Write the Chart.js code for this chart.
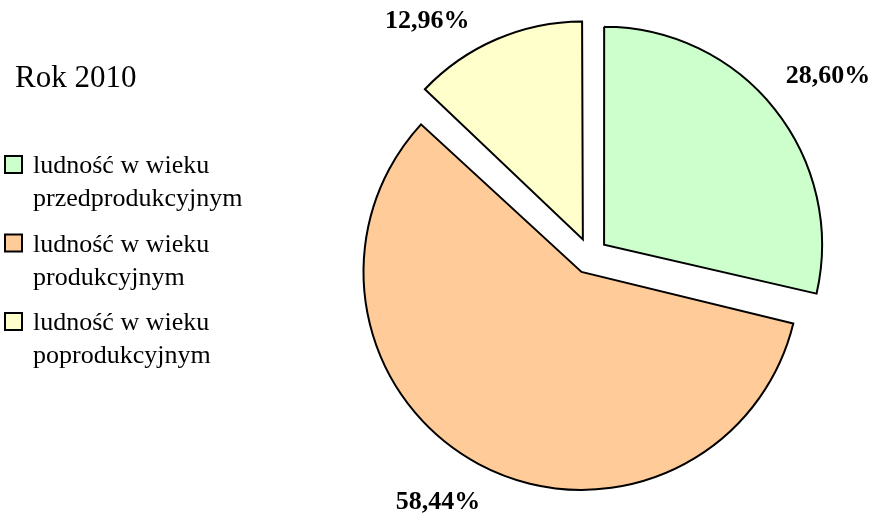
<!DOCTYPE html>
<html>
<head>
<meta charset="utf-8">
<script src="https://cdn.jsdelivr.net/npm/chart.js@4/dist/chart.umd.min.js"></script>
<style>
  html, body { margin: 0; padding: 0; background: #fff; }
  #pie { display: block; }
</style>
</head>
<body>
<canvas id="pie" width="875" height="517"></canvas>
<script>
// dane z wykresu (Rok 2010)
const chartTitle = 'Rok 2010';
const categories = [
  'ludność w wieku przedprodukcyjnym',
  'ludność w wieku produkcyjnym',
  'ludność w wieku poprodukcyjnym',
];
const shares = [28.60, 58.44, 12.96];
const sliceColors = ['#CCFFCC', '#FFCC99', '#FFFFCC'];

const FONT = "'Liberation Serif', 'DejaVu Serif', serif";
const PIE_RADIUS = 218;
const SLICE_OFFSET = 72;   // Chart.js przesuwa wycinek o offset/4
// ułożenie etykiet: odległość od środka wycinka i lekki obrót (stopnie) względem osi wycinka
const LABEL_PLACE = [
  { dist: 280, turn: 1.6 },
  { dist: 271, turn: 3.8 },
  { dist: 268, turn: -12.2 },
];

const fmtPct = (v) => v.toFixed(2).replace('.', ',') + '%';

// offset w Chart.js powiększa też promień dużych wycinków -> wyrównanie promieni
const equalRadius = {
  id: 'equalRadius',
  beforeDatasetsDraw(chart) {
    chart.getDatasetMeta(0).data.forEach((arc) => {
      const shift = SLICE_OFFSET / 4;
      const fix = 1 - Math.sin(Math.min(Math.PI, arc.circumference));
      arc.outerRadius = PIE_RADIUS - shift * fix;
    });
  },
};

// etykiety procentowe na zewnątrz wycinków
const pctLabels = {
  id: 'pctLabels',
  afterDatasetsDraw(chart) {
    const ctx = chart.ctx;
    const values = chart.data.datasets[0].data;
    ctx.save();
    ctx.font = `bold 26px ${FONT}`;
    ctx.fillStyle = '#000';
    ctx.textAlign = 'center';
    ctx.textBaseline = 'middle';
    chart.getDatasetMeta(0).data.forEach((arc, i) => {
      const p = LABEL_PLACE[i];
      const mid = (arc.startAngle + arc.endAngle) / 2;
      const shift = SLICE_OFFSET / 4;
      const cx = arc.x + Math.cos(mid) * shift;
      const cy = arc.y + Math.sin(mid) * shift;
      const a = mid + p.turn * Math.PI / 180;
      ctx.fillText(fmtPct(values[i]), cx + Math.cos(a) * p.dist, cy + Math.sin(a) * p.dist);
    });
    ctx.restore();
  },
};

// tytuł + legenda po lewej stronie
function wrap(ctx, text, maxW) {
  const words = text.split(' ');
  const lines = [];
  let line = '';
  words.forEach((w) => {
    const test = line ? line + ' ' + w : w;
    if (ctx.measureText(test).width > maxW && line) {
      lines.push(line);
      line = w;
    } else {
      line = test;
    }
  });
  if (line) lines.push(line);
  return lines;
}

const sideLegend = {
  id: 'sideLegend',
  afterDraw(chart) {
    const ctx = chart.ctx;
    const ds = chart.data.datasets[0];
    ctx.save();
    ctx.fillStyle = '#000';
    ctx.textAlign = 'left';
    ctx.textBaseline = 'alphabetic';
    ctx.font = `31px ${FONT}`;
    ctx.fillText(chartTitle, 15, 87);

    ctx.font = `26px ${FONT}`;
    const lineH = 33;
    let base = 173;
    chart.data.labels.forEach((label, i) => {
      ctx.fillStyle = ds.backgroundColor[i];
      ctx.fillRect(5, base - 17, 17, 17);
      ctx.strokeStyle = '#000';
      ctx.lineWidth = 2;
      ctx.strokeRect(5, base - 17, 17, 17);
      ctx.fillStyle = '#000';
      const lines = wrap(ctx, label, 215);
      lines.forEach((ln, k) => ctx.fillText(ln, 33, base + k * lineH));
      base += lines.length * lineH + 12.5;
    });
    ctx.restore();
  },
};

new Chart(document.getElementById('pie'), {
  type: 'pie',
  data: {
    labels: categories,
    datasets: [{
      data: shares,
      backgroundColor: sliceColors,
      borderColor: '#000',
      borderWidth: 2,
      borderJoinStyle: 'miter',
      offset: SLICE_OFFSET,
    }],
  },
  options: {
    responsive: false,
    animation: false,
    radius: PIE_RADIUS,
    layout: { padding: { left: 365, right: 60, top: 31, bottom: 36 } },
    plugins: {
      legend: { display: false },
      tooltip: { enabled: false },
      title: { display: false },
    },
  },
  plugins: [equalRadius, pctLabels, sideLegend],
});
</script>
</body>
</html>
